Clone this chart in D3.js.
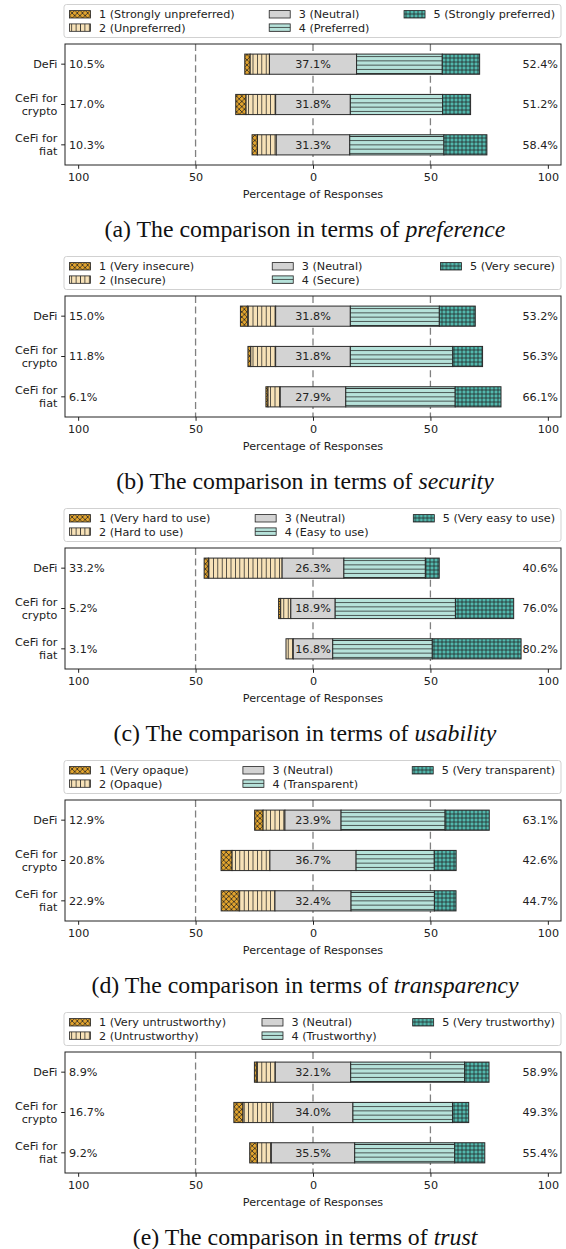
<!DOCTYPE html>
<html>
<head>
<meta charset="utf-8">
<script src="https://cdn.jsdelivr.net/npm/d3@7"></script>
<style>
  body { margin: 0; background: #fff; }
  svg text { font-family: "DejaVu Sans", sans-serif; }
</style>
</head>
<body>
<svg id="chart"></svg>
<script>
// rows of every panel
var groups = ["DeFi", "CeFi for\ncrypto", "CeFi for\nfiat"];

// (a) preference
var prefLabels = ["1 (Strongly unpreferred)", "2 (Unpreferred)", "3 (Neutral)", "4 (Preferred)", "5 (Strongly preferred)"];
var prefValues = [[2.3, 8.2, 37.1, 36.5, 15.9], [4.4, 12.6, 31.8, 39.3, 11.9], [2.3, 8.0, 31.3, 40.1, 18.3]];
// (b) security
var secLabels = ["1 (Very insecure)", "2 (Insecure)", "3 (Neutral)", "4 (Secure)", "5 (Very secure)"];
var secValues = [[3.1, 11.9, 31.8, 37.9, 15.3], [1.2, 10.6, 31.8, 43.6, 12.7], [0.9, 5.2, 27.9, 46.6, 19.5]];
// (c) usability
var useLabels = ["1 (Very hard to use)", "2 (Hard to use)", "3 (Neutral)", "4 (Easy to use)", "5 (Very easy to use)"];
var useValues = [[1.8, 31.4, 26.3, 34.7, 5.9], [0.9, 4.3, 18.9, 51.2, 24.8], [0.0, 3.1, 16.8, 42.4, 37.8]];
// (d) transparency
var trpLabels = ["1 (Very opaque)", "2 (Opaque)", "3 (Neutral)", "4 (Transparent)", "5 (Very transparent)"];
var trpValues = [[3.6, 9.3, 23.9, 44.3, 18.8], [4.7, 16.1, 36.7, 33.3, 9.3], [7.7, 15.2, 32.4, 35.5, 9.2]];
// (e) trust
var trustLabels = ["1 (Very untrustworthy)", "2 (Untrustworthy)", "3 (Neutral)", "4 (Trustworthy)", "5 (Very trustworthy)"];
var trustValues = [[1.1, 7.8, 32.1, 48.5, 10.4], [3.9, 12.8, 34.0, 42.4, 6.9], [3.3, 5.9, 35.5, 42.6, 12.8]];

var captionPrefix = ["(a)", "(b)", "(c)", "(d)", "(e)"];
var captionWords = ["preference", "security", "usability", "transparency", "trust"];
var xTicks = [-100, -50, 0, 50, 100];
var gridTicks = [-50, 0, 50];

var panels = [
  { labels: prefLabels, values: prefValues },
  { labels: secLabels, values: secValues },
  { labels: useLabels, values: useValues },
  { labels: trpLabels, values: trpValues },
  { labels: trustLabels, values: trustValues }
];

var width = 566, height = 1249;
var panelH = 252;
var box = { left: 65, right: 561, top: 44, bottom: 165 };
var fs = 11.2;
var fmt = d3.format(".1f");

var svg = d3.select("#chart").attr("width", width).attr("height", height);
var defs = svg.append("defs");

// hatch fills, one per answer level
var fills = ["#e2a42e", "#f7e2b8", "#d3d3d3", "#b6e2da", "#52b8ad"];
var hatchInk = "#222";
function pattern(id, size, color, d) {
  var p = defs.append("pattern").attr("id", id)
    .attr("patternUnits", "userSpaceOnUse")
    .attr("width", size).attr("height", size);
  p.append("rect").attr("width", size).attr("height", size).attr("fill", color);
  if (d) p.append("path").attr("d", d).attr("stroke", hatchInk).attr("stroke-width", 0.75).attr("fill", "none");
}
pattern("h1", 5.2, fills[0], "M0,0L5.2,5.2M5.2,0L0,5.2");
pattern("h2", 4.4, fills[1], "M2.2,0V4.4");
pattern("h3", 4, fills[2], null);
pattern("h4", 4.2, fills[3], "M0,2.1H4.2");
pattern("h5", 4, fills[4], "M2,0V4M0,2H4");
var fillUrl = function (i) { return "url(#h" + (i + 1) + ")"; };

var x = d3.scaleLinear().domain([-105.6, 105.6]).range([box.left, box.right]);
var y = d3.scaleBand().domain(groups).range([box.top, box.bottom]).paddingInner(0.5).paddingOuter(0.25);

panels.forEach(function (panel, pi) {
  var g = svg.append("g").attr("transform", "translate(0," + (pi * panelH) + ")");

  // legend (expanded over the axes width, 3 columns)
  var leg = g.append("g");
  leg.append("rect")
    .attr("x", box.left - 1).attr("y", 4.5)
    .attr("width", box.right - box.left + 1).attr("height", 33)
    .attr("rx", 2.5).attr("fill", "#fff").attr("stroke", "#cccccc").attr("stroke-width", 0.9);
  var cols = [[0, 1], [2, 3], [4]];
  var rowY = [14.3, 27.6];
  var colGroups = cols.map(function (items) {
    var cg = leg.append("g");
    items.forEach(function (k, r) {
      cg.append("rect").attr("x", 0).attr("y", rowY[r] - 3.7)
        .attr("width", 21).attr("height", 7.4)
        .attr("fill", fillUrl(k)).attr("stroke", "#222").attr("stroke-width", 0.8);
      cg.append("text").attr("x", 29.5).attr("y", rowY[r]).attr("dy", "0.35em")
        .attr("font-size", fs).attr("fill", "#222").text(panel.labels[k]);
    });
    return cg;
  });
  var colW = colGroups.map(function (cg) {
    var w = 0;
    cg.selectAll("text").each(function () { w = Math.max(w, this.getComputedTextLength()); });
    return 29.5 + w;
  });
  var inner0 = box.left + 4.5, inner1 = box.right - 6;
  var gap = (inner1 - inner0 - d3.sum(colW)) / 2;
  var cx = inner0;
  colGroups.forEach(function (cg, c) {
    cg.attr("transform", "translate(" + cx + ",0)");
    cx += colW[c] + gap;
  });

  // dashed guides
  g.selectAll("line.grid").data(gridTicks).enter().append("line")
    .attr("x1", function (d) { return x(d); }).attr("x2", function (d) { return x(d); })
    .attr("y1", box.top).attr("y2", box.bottom)
    .attr("stroke", "#808080").attr("stroke-width", 1.3).attr("stroke-dasharray", "7,3.6");

  // stacked diverging bars, neutral centred on 0
  var rows = panel.values.map(function (v, ri) {
    var start = -(v[0] + v[1] + v[2] / 2);
    var segs = [];
    v.forEach(function (val, k) {
      segs.push({ k: k, x0: start, x1: start + val });
      start += val;
    });
    return { name: groups[ri], v: v, segs: segs };
  });

  var rowG = g.selectAll("g.row").data(rows).enter().append("g");
  rowG.selectAll("rect").data(function (d) {
    return d.segs.map(function (s) { return { name: d.name, k: s.k, x0: s.x0, x1: s.x1 }; });
  }).enter().append("rect")
    .attr("x", function (d) { return x(d.x0); })
    .attr("y", function (d) { return y(d.name); })
    .attr("width", function (d) { return x(d.x1) - x(d.x0); })
    .attr("height", y.bandwidth())
    .attr("fill", function (d) { return fillUrl(d.k); })
    .attr("stroke", "#2a2a2a").attr("stroke-width", 1);

  // percentage labels
  rowG.append("text")
    .attr("x", box.left + 4).attr("y", function (d) { return y(d.name) + y.bandwidth() / 2; })
    .attr("dy", "0.35em").attr("font-size", fs).attr("fill", "#222")
    .text(function (d) { return fmt(d.v[0] + d.v[1]) + "%"; });
  rowG.append("text")
    .attr("x", x(0)).attr("y", function (d) { return y(d.name) + y.bandwidth() / 2; })
    .attr("dy", "0.35em").attr("text-anchor", "middle").attr("font-size", fs).attr("fill", "#222")
    .text(function (d) { return fmt(d.v[2]) + "%"; });
  rowG.append("text")
    .attr("x", box.right - 3).attr("y", function (d) { return y(d.name) + y.bandwidth() / 2; })
    .attr("dy", "0.35em").attr("text-anchor", "end").attr("font-size", fs).attr("fill", "#222")
    .text(function (d) { return fmt(d.v[3] + d.v[4]) + "%"; });

  // frame
  g.append("rect")
    .attr("x", box.left).attr("y", box.top)
    .attr("width", box.right - box.left).attr("height", box.bottom - box.top)
    .attr("fill", "none").attr("stroke", "#222").attr("stroke-width", 1);

  // x axis
  var xa = g.append("g").attr("transform", "translate(0," + box.bottom + ")")
    .call(d3.axisBottom(x).tickValues(xTicks).tickSize(3.8).tickPadding(3.8)
      .tickFormat(function (d) { return Math.abs(d); }));
  xa.select(".domain").remove();
  xa.selectAll("line").attr("stroke", "#222");
  xa.selectAll("text").attr("font-size", fs).attr("fill", "#222").attr("font-family", "DejaVu Sans");

  g.append("text")
    .attr("x", x(0)).attr("y", 197.5)
    .attr("text-anchor", "middle").attr("font-size", fs).attr("fill", "#222")
    .text("Percentage of Responses");

  // y axis with two-line labels
  var ya = g.append("g").attr("transform", "translate(" + box.left + ",0)")
    .call(d3.axisLeft(y).tickSize(3.8).tickPadding(3.8));
  ya.select(".domain").remove();
  ya.selectAll("line").attr("stroke", "#222");
  ya.selectAll("text").each(function (d) {
    var t = d3.select(this).text(null).attr("font-size", fs).attr("fill", "#222")
      .attr("font-family", "DejaVu Sans").attr("dy", null);
    var lines = d.split("\n");
    lines.forEach(function (ln, i) {
      t.append("tspan").attr("x", -7.6)
        .attr("dy", i === 0 ? (0.32 - (lines.length - 1) * 0.575) + "em" : "1.15em")
        .text(ln);
    });
  });

  // caption
  var cap = g.append("text")
    .attr("x", 305).attr("y", 237)
    .attr("text-anchor", "middle")
    .style("font-family", "'Liberation Serif', 'Times New Roman', serif")
    .attr("font-size", 23.8).attr("fill", "#111");
  cap.append("tspan").text(captionPrefix[pi] + " The comparison in terms of ");
  cap.append("tspan").attr("font-style", "italic").text(captionWords[pi]);
});
</script>
</body>
</html>
